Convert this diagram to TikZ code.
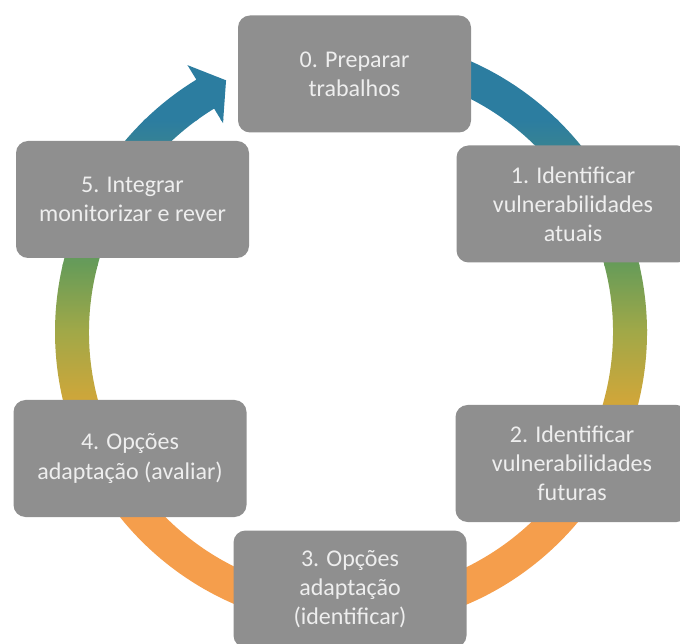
\documentclass[tikz,border=0pt]{standalone}
\usepackage{fontspec}
\setmainfont{Carlito}
\definecolor{boxgray}{RGB}{143,143,143}
\definecolor{boxtext}{RGB}{238,238,238}
\definecolor{cteal}{RGB}{44,125,160}
\definecolor{cgreen}{RGB}{104,156,88}
\definecolor{cygreen}{RGB}{160,168,72}
\definecolor{cyellow}{RGB}{214,166,56}
\definecolor{corange}{RGB}{245,158,76}
\begin{document}
\begin{tikzpicture}[x=1pt,y=1pt,
  stage/.style={draw=none, fill=boxgray, rounded corners=12pt,
    minimum width=233pt, minimum height=117pt, text=boxtext,
    align=center, font=\fontsize{24}{29}\selectfont, inner sep=0pt}]
\useasboundingbox (0,0) rectangle (680,643);
% circular gradient arrow
\begin{scope}
\clip[shift={(351,311)}] (95:296) arc[start angle=95,end angle=-238.5,radius=296]
  -- (-238.5:313) -- (-243.6:281) -- (-238.5:245) -- (-238.5:262)
  arc[start angle=-238.5,end angle=95,radius=262] -- cycle;
\fill[cteal] (0,522) rectangle (680,643);
\shade[top color=cteal,bottom color=cgreen] (0,377.5) rectangle (680,523);
\shade[top color=cgreen,bottom color=cygreen] (0,312.5) rectangle (680,378);
\shade[top color=cygreen,bottom color=cyellow] (0,232.5) rectangle (680,313);
\shade[top color=cyellow,bottom color=corange] (0,162.5) rectangle (680,233);
\fill[corange] (0,0) rectangle (680,163);
\end{scope}
% stages
\node[stage] (s0) at (354.5,569) {0. Preparar\\trabalhos};
\node[stage] (s1) at (573,439) {1. Identificar\\vulnerabilidades\\atuais};
\node[stage] (s2) at (572,179.5) {2. Identificar\\vulnerabilidades\\futuras};
\node[stage] (s3) at (350,54) {3. Opções\\adaptação\\(identificar)};
\node[stage] (s4) at (130,184.5) {4. Opções\\adaptação (avaliar)};
\node[stage] (s5) at (132.5,443.5) {5. Integrar\\monitorizar e rever};
\end{tikzpicture}
\end{document}
